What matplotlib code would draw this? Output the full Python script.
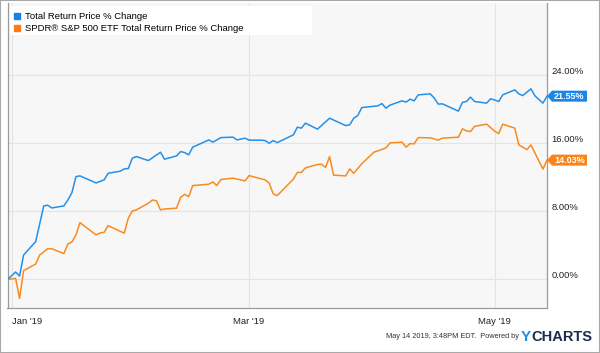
import matplotlib
matplotlib.use("Agg")
import matplotlib.pyplot as plt
from matplotlib.lines import Line2D
from matplotlib.patches import Polygon, Rectangle
from matplotlib.transforms import IdentityTransform, ScaledTranslation
import pandas as pd

plt.rcParams['font.family'] = ['Liberation Sans', 'DejaVu Sans']

START = pd.Timestamp('2019-01-01')

# calendar day offsets from Jan 1 2019 / total return price % change
fund_days = [-1, 1, 2, 3, 6, 8, 9, 10, 13, 14, 15, 16, 17, 21, 23, 24, 27, 28, 29, 30,
             31, 34, 37, 38, 41, 42, 43, 44, 45, 49, 50, 52, 55, 56, 58, 59, 62, 63, 64, 65,
             66, 70, 71, 72, 73, 76, 79, 83, 84, 85, 86, 87, 91, 92, 93, 94, 97, 98, 99, 100,
             101, 104, 105, 106, 107, 111, 112, 113, 114, 115, 118, 119, 120, 121, 122, 125, 126, 127, 129, 130,
             132, 133]
fund_ret = [0.00, 0.88, 0.41, 2.88, 4.45, 8.65, 8.73, 8.41, 8.65, 9.35, 10.21, 12.09, 12.18, 11.35, 11.71, 12.49, 12.73, 13.00, 13.04, 14.26,
            14.45, 13.98, 14.96, 14.14, 14.53, 15.04, 14.92, 14.65, 15.55, 16.41, 16.14, 16.68, 16.73, 16.41, 16.61, 16.38, 16.38, 16.33, 16.02, 16.33,
            16.09, 17.00, 17.91, 17.79, 18.38, 17.67, 18.96, 18.09, 18.18, 18.96, 19.27, 20.21, 20.41, 20.68, 20.14, 20.49, 21.00, 20.85, 21.20, 21.00,
            21.70, 21.82, 21.32, 20.61, 20.65, 19.79, 20.82, 20.92, 21.44, 20.92, 20.73, 21.24, 21.10, 20.92, 21.70, 22.29, 21.82, 21.62, 22.41, 21.59,
            20.73, 21.55]

spy_days = [-1, 1, 2, 3, 6, 7, 9, 10, 13, 14, 15, 16, 17, 21, 22, 23, 24, 28, 29, 30,
            31, 34, 35, 36, 37, 38, 41, 42, 43, 44, 45, 49, 50, 51, 52, 55, 58, 59, 63, 64,
            65, 66, 70, 71, 72, 73, 76, 77, 78, 79, 80, 83, 84, 85, 87, 90, 91, 93, 94, 97,
            98, 99, 100, 101, 104, 106, 107, 111, 112, 113, 114, 115, 118, 120, 121, 122, 125, 126, 128, 129,
            132, 133]
spy_ret = [0.00, 0.14, -2.21, 1.04, 1.82, 2.88, 3.62, 3.62, 3.04, 4.18, 4.41, 5.24, 6.68, 5.24, 5.47, 5.55, 6.33, 5.44, 7.20, 8.06,
           8.18, 8.96, 9.35, 9.24, 8.18, 8.29, 8.38, 9.67, 10.02, 9.74, 11.04, 11.20, 11.47, 11.04, 11.75, 11.91, 11.59, 12.21, 11.71, 11.32,
           10.06, 9.86, 11.80, 12.59, 12.59, 13.12, 13.52, 13.55, 13.18, 14.45, 12.26, 12.18, 13.00, 12.49, 13.61, 14.96, 15.12, 15.47, 16.06, 16.14,
           15.55, 15.98, 15.94, 16.68, 16.65, 16.38, 16.61, 16.73, 17.71, 17.47, 17.39, 18.00, 18.26, 17.44, 17.15, 18.26, 17.79, 15.82, 15.27, 15.82,
           12.98, 14.03]

labels = ['Total Return Price % Change', 'SPDR\u00ae S&P 500 ETF Total Return Price % Change']
y_ticks = [0, 8, 16, 24]
x_tick_dates = ['2019-01-01', '2019-03-01', '2019-05-01']
x_tick_labels = ["Jan '19", "Mar '19", "May '19"]

BLUE = '#2490e8'
ORANGE = '#f98b1e'
W, H = 600, 353

fig = plt.figure(figsize=(W / 100, H / 100), dpi=100)
fig.patch.set_facecolor('white')
ax = fig.add_axes([7.5 / W, 45 / H, 539.5 / W, 305 / H])
ax.set_facecolor('#f7f7f7')

fund_x = START + pd.to_timedelta(fund_days, unit='D')
spy_x = START + pd.to_timedelta(spy_days, unit='D')
ax.plot(spy_x, spy_ret, color=ORANGE, lw=1.1, zorder=3)
ax.plot(fund_x, fund_ret, color=BLUE, lw=1.1, zorder=4)

ax.set_xlim(START + pd.Timedelta(days=-1), START + pd.Timedelta(days=133))
ax.set_ylim(-3.35, 32.5)

ax.set_xticks(pd.to_datetime(x_tick_dates))
ax.set_xticklabels(x_tick_labels)
ax.yaxis.tick_right()
ax.set_yticks(y_ticks)
ax.set_yticklabels(['%.2f%%' % v for v in y_ticks])
ax.tick_params(axis='both', length=0, labelsize=6.8, colors='#222222')
ax.tick_params(axis='x', pad=6.5)
ax.tick_params(axis='y', pad=3)
ax.get_xticklabels()[0].set_ha('left')
shift = ScaledTranslation(0, 5 / 100, fig.dpi_scale_trans)
for lab in ax.get_yticklabels():
    lab.set_transform(lab.get_transform() + shift)

ax.grid(True, color='#e4e4e4', lw=0.8)
ax.set_axisbelow(True)
ax.spines['top'].set_visible(False)
for s in ['left', 'right', 'bottom']:
    ax.spines[s].set_color('#9a9a9a')
    ax.spines[s].set_linewidth(0.9)

# legend box
fig.add_artist(Rectangle((10 / W, 1 - 35 / H), 302 / W, 29 / H, transform=fig.transFigure,
                         facecolor='white', edgecolor='none', zorder=1))
handles = [Line2D([], [], marker='s', ls='', color='#1a7fe6', ms=4),
           Line2D([], [], marker='s', ls='', color='#ff7a12', ms=4)]
fig.legend(handles, labels, loc='upper left', bbox_to_anchor=(14.5 / W, 1 - 12 / H), frameon=False,
           fontsize=6.8, handlelength=0.6, handletextpad=0.5, borderpad=0, borderaxespad=0,
           labelspacing=0.35)

# end value tags
for last, col in [(fund_ret[-1], '#1b86e6'), (spy_ret[-1], '#fa8417')]:
    px, py = ax.transData.transform((ax.get_xlim()[1], last))
    pts = [(px, py), (px + 5, py + 5.5), (px + 40, py + 5.5), (px + 40, py - 5.5), (px + 5, py - 5.5)]
    fig.add_artist(Polygon(pts, closed=True, transform=IdentityTransform(), facecolor=col,
                           edgecolor='none', zorder=6))
    fig.text((px + 22.5) / W, py / H, '%.2f%%' % last, ha='center', va='center', fontsize=6.5,
             fontweight='bold', color='white', zorder=7)

# footer
fig.text(519 / W, 1 - 337 / H, 'May 14 2019, 3:48PM EDT.  Powered by', ha='right', va='center',
         fontsize=5.3, color='#333333')
fig.text(521 / W, 1 - 337 / H, 'Y', ha='left', va='center', fontsize=11, fontweight='bold',
         color='#1b8fe3')
fig.text(531 / W, 1 - 337 / H, 'CHARTS', ha='left', va='center', fontsize=10.5, fontweight='bold',
         color='#1c2b4d')

fig.add_artist(Rectangle((0, 0), 1, 1, transform=fig.transFigure, fill=False,
                         edgecolor='#a8a8a8', lw=1.5, zorder=10))

fig.savefig('out.png', dpi=100)
